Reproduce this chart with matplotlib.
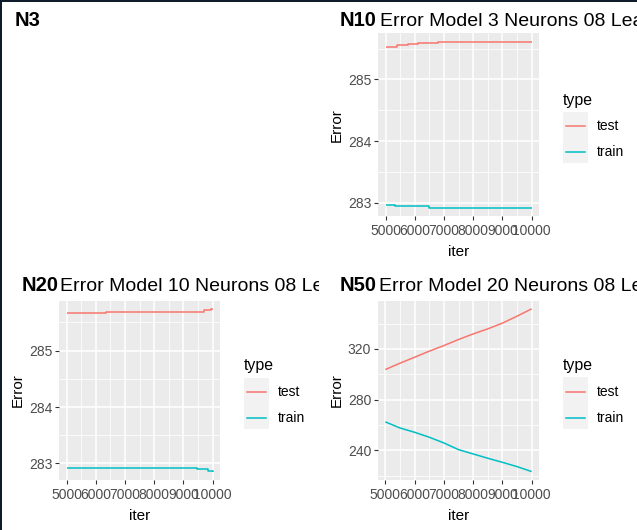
import matplotlib
matplotlib.use('Agg')
import matplotlib.pyplot as plt
from matplotlib.patches import Rectangle
from matplotlib.lines import Line2D
from matplotlib.transforms import Bbox, TransformedBbox

W, H = 637, 530
DPI = 100
plt.rcParams['font.family'] = ['Liberation Sans', 'DejaVu Sans']

# ---------------- data ----------------
series_names = ['test', 'train']
series_colors = ['#F8766D', '#00BFC4']
x_ticks = [5000, 6000, 7000, 8000, 9000, 10000]

# N10: Error Model 3 Neurons
n10_test_iter = [5000, 5400, 5780, 6120, 6810, 10000]
n10_test_err = [285.530, 285.552, 285.568, 285.590, 285.612, 285.612]
n10_train_iter = [5000, 5320, 6490, 10000]
n10_train_err = [282.962, 282.945, 282.923, 282.923]
n10_yticks = [283, 284, 285]

# N20: Error Model 10 Neurons
n20_test_iter = [5000, 6364, 9716, 9943, 10000]
n20_test_err = [285.661, 285.684, 285.713, 285.736, 285.736]
n20_train_iter = [5000, 9466, 9830, 10000]
n20_train_err = [282.917, 282.893, 282.869, 282.850]
n20_yticks = [283, 284, 285]

# N50: Error Model 20 Neurons
n50_iter = [5000, 5500, 6000, 6500, 7000, 7500, 8000, 8500, 9000, 9500, 10000]
n50_test_err = [303.7, 308.7, 313.4, 318.2, 322.6, 327.4, 331.8, 335.8, 340.3, 345.8, 351.6]
n50_train_err = [262.4, 257.6, 254.2, 250.3, 245.8, 240.5, 237.1, 233.7, 230.5, 227.1, 223.2]
n50_yticks = [240, 280, 320]

tag_labels = ['N3', 'N10', 'N20', 'N50']
titles = ['Error Model 3 Neurons 08 Lea', 'Error Model 10 Neurons 08 Le', 'Error Model 20 Neurons 08 Le']

fig = plt.figure(figsize=(W / DPI, H / DPI), dpi=DPI)
fig.patch.set_facecolor('white')


def fx(x):
    return x / W


def fy(y):
    return 1 - y / H


def expand(lo, hi, f=0.05):
    r = hi - lo
    return lo - f * r, hi + f * r


def panel(x0, x1, y0, y1, data, yticks, title, tag, tag_x, title_x, base_y, clip_x=None):
    ax = fig.add_axes([fx(x0), fy(y1), (x1 - x0) / W, (y1 - y0) / H])
    ax.set_facecolor('#EBEBEB')
    for s in ax.spines.values():
        s.set_visible(False)
    allx, ally = [], []
    for (xs, ys, step), c in zip(data, series_colors):
        ax.plot(xs, ys, color=c, lw=1.1, drawstyle='steps-post' if step else 'default',
                solid_capstyle='butt')
        allx += xs
        ally += ys
    ax.set_xlim(*expand(min(allx), max(allx)))
    ax.set_ylim(*expand(min(ally), max(ally)))
    ax.set_xticks(x_ticks)
    ax.set_xticklabels([str(v) for v in x_ticks])
    ax.set_xticks([v + 500 for v in x_ticks[:-1]], minor=True)
    ax.set_yticks(yticks)
    ax.set_yticklabels([str(v) for v in yticks])
    step = yticks[1] - yticks[0]
    ymin, ymax = ax.get_ylim()
    mins = [yticks[0] - step / 2 + i * step for i in range(len(yticks) + 1)]
    ax.set_yticks([m for m in mins if ymin <= m <= ymax], minor=True)
    ax.grid(which='major', color='white', lw=1.1)
    ax.grid(which='minor', color='white', lw=0.55)
    ax.set_axisbelow(True)
    ax.tick_params(which='major', length=2.9, width=0.8, color='#333333', labelcolor='#4D4D4D',
                   labelsize=10, pad=2.0)
    ax.tick_params(axis='x', which='major', pad=3.0)
    ax.tick_params(which='minor', length=0)
    ax.set_xlabel('iter', fontsize=11, labelpad=5)
    ax.set_ylabel('Error', fontsize=11, labelpad=3)
    # title and tag
    fig.text(fx(tag_x), fy(base_y), tag, fontsize=14.5, fontweight='bold', ha='left', va='baseline')
    t2 = fig.text(fx(title_x), fy(base_y), title, fontsize=14, ha='left', va='baseline')
    if clip_x is not None:
        t2.set_clip_box(TransformedBbox(Bbox([[0, 0], [clip_x / W, 1]]), fig.transFigure))
        t2.set_clip_on(True)
    # legend
    cy = (y0 + y1) / 2
    lx = x0 + 184.6
    fig.text(fx(lx), fy(cy - 24.6), 'type', fontsize=11.4, ha='left', va='center')
    for i, (name, c) in enumerate(zip(series_names, series_colors)):
        top = cy - 12.8 + i * 25.8
        fig.add_artist(Rectangle((fx(lx), fy(top + 25.8)), 25 / W, 25.8 / H,
                                 transform=fig.transFigure, facecolor='#F2F2F2', edgecolor='none'))
        ly = top + 14.5
        fig.add_artist(Line2D([fx(lx + 3.5), fx(lx + 22.5)], [fy(ly), fy(ly)],
                              transform=fig.transFigure, color=c, lw=1.1))
        fig.text(fx(lx + 34), fy(ly), name, fontsize=10, ha='left', va='center', color='black')
    return ax


# top-left: empty panel with tag only
fig.text(fx(15), fy(26), tag_labels[0], fontsize=14.5, fontweight='bold', ha='left', va='baseline')

panel(378.3, 539, 33.3, 216,
      [(n10_test_iter, n10_test_err, True), (n10_train_iter, n10_train_err, True)],
      n10_yticks, titles[0], tag_labels[1], 340, 380, 26)

panel(59.3, 220, 301, 480,
      [(n20_test_iter, n20_test_err, True), (n20_train_iter, n20_train_err, True)],
      n20_yticks, titles[1], tag_labels[2], 21.7, 60, 290.8, clip_x=319)

panel(378, 539, 300.7, 479.7,
      [(n50_iter, n50_test_err, False), (n50_iter, n50_train_err, False)],
      n50_yticks, titles[2], tag_labels[3], 339.3, 379.3, 290.7)

# dark frame on left and top edges
fig.add_artist(Rectangle((0, 0), 2 / W, 1, transform=fig.transFigure, facecolor='#0d1b2a', edgecolor='none'))
fig.add_artist(Rectangle((0, 1 - 2 / H), 1, 2 / H, transform=fig.transFigure, facecolor='#0d1b2a', edgecolor='none'))

fig.savefig('out.png', dpi=DPI)
